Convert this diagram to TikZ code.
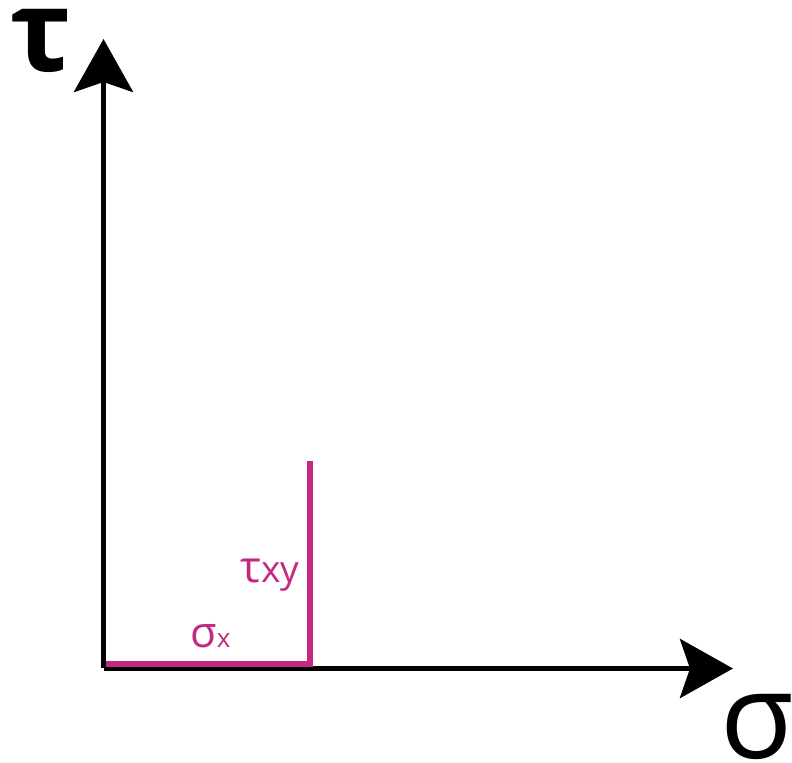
\documentclass[tikz,border=0pt]{standalone}
\usepackage{fontspec}
\setmainfont{Open Sans}
\usepackage{xcolor}
\usetikzlibrary{arrows.meta,positioning}
\definecolor{stressmag}{HTML}{C22A82}

\newcommand{\subsize}[1]{\fontsize{#1}{#1}\selectfont}

\begin{document}
\begin{tikzpicture}[
			x=0.5pt,
			y=-0.5pt,
			line cap=butt,
			axis/.style={line width=2.8pt,-{Stealth[length=26.5pt,width=29.5pt,inset=5pt]}},
			stressline/.style={stressmag, line width=3pt},
			biglabel/.style={inner sep=0pt, anchor=base west, font=\fontsize{60pt}{72pt}\selectfont},
			smalllabel/.style={inner sep=0pt, anchor=base west, text=stressmag}
			]
			\useasboundingbox (0,0) rectangle (792,763);
			
			% origin and axis ends
			\coordinate (O) at (103.5,668.5);
			\coordinate (tautip) at (103.5,39);
			\coordinate (sigtip) at (733,668.5);
			
			% axes
			\draw[axis] (O) -- (tautip);
			\draw[axis] (O) -- (sigtip);
			
			% stress components
			\coordinate (s0) at (106,664);
			\coordinate (sx) at (309.5,664);
			\coordinate (txy) at (309.5,461);
			\draw[stressline] (s0) -- (sx) -- (txy);
			
			% labels
			\node[biglabel,font=\fontsize{57pt}{64pt}\selectfont\bfseries] (tau) at (10,72) {τ};
			\node[biglabel] (sigma) at (720,758) {σ};
			\node[smalllabel,font=\fontsize{22pt}{26pt}\selectfont] (name_txy) at (240,583) {τ{\subsize{18.5pt}xy}};
			\node[smalllabel,font=\fontsize{21.5pt}{24pt}\selectfont] (name_sx) at (190,648) {σ{\subsize{13pt}x}};
		\end{tikzpicture}
\end{document}
